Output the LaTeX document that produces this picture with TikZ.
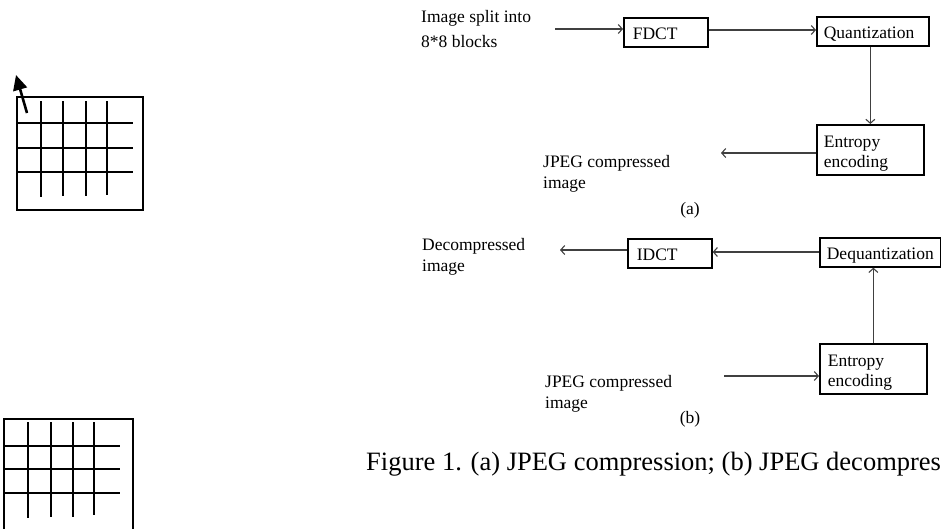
\documentclass[tikz,border=0pt]{standalone}
\usepackage{fontspec}
\setmainfont{Liberation Serif}
\usetikzlibrary{arrows.meta}
\begin{document}
\begin{tikzpicture}[x=1pt,y=-1pt,
  lbl/.style={font=\fontsize{17.5}{21.4}\selectfont, inner sep=0pt, align=left, anchor=north west},
  stage/.style={draw=black, line width=1.7pt, font=\fontsize{17.5}{20}\selectfont,
    inner xsep=0pt, inner ysep=0pt, align=left, anchor=north west,
    minimum height=29pt, text height=15pt, text depth=0pt},
  stage2/.style={stage, minimum height=50pt, text height=14pt, text depth=19pt},
  conn/.style={draw=black!75, line width=1.1pt, -{Straight Barb[length=4pt,width=9pt]}},
  gridline/.style={line width=2pt},
  pointer/.style={line width=2.6pt, -{Triangle[length=15pt,width=14pt]}}
]
\useasboundingbox (0,0) rectangle (941,528);
\clip (0,0) rectangle (941,528);

% ---- 8x8 block sketch, upper left ----
\draw[gridline] (17,97) rectangle (143,210);
\foreach \x/\e in {41/197,63/196,86/196,107/195}
  \draw[gridline] (\x,101) -- (\x,\e);
\foreach \y in {123,148,172}
  \draw[gridline] (17,\y) -- (133,\y);
\coordinate (ptrA) at (27,113);
\coordinate (ptrB) at (16,75);
\draw[pointer] (ptrA) -- (ptrB);

% ---- 8x8 block sketch, lower left ----
\draw[gridline] (4,419) rectangle (133,533);
\foreach \x/\e in {28/518,51/517,73/517,94/515}
  \draw[gridline] (\x,422) -- (\x,\e);
\foreach \y in {446,469,493}
  \draw[gridline] (4,\y) -- (120,\y);

% ---- (a) compression ----
\node[lbl, font=\fontsize{17.5}{25}\selectfont] (inA) at (421,10) {Image split into\\8*8 blocks};
\node[stage, minimum width=84pt, text width=66pt] (fdct) at (623,17) {FDCT};
\node[stage, minimum width=112pt, text width=98pt] (quant) at (816,16) {Quantization};
\node[stage2, minimum width=107pt, text width=93pt] (entA) at (816,124) {Entropy\\encoding};
\node[lbl] (outA) at (543,155) {JPEG compressed\\image};
\node[font=\fontsize{17.5}{21}\selectfont, inner sep=0pt, anchor=base] (capA) at (690,214) {(a)};

\coordinate (srcA) at (555,29);
\coordinate (dstA) at (721,153);
\draw[conn] (srcA) -- (srcA -| fdct.west);
\draw[conn] (fdct.east |- 0,30) -- (quant.west |- 0,30);
\draw[conn] (entA.north |- quant.south) -- (entA.north);
\draw[conn] (dstA -| entA.west) -- (dstA);

% ---- (b) decompression ----
\node[lbl] (outB) at (422,238) {Decompressed\\image};
\node[stage, minimum width=84pt, text width=66pt] (idct) at (627,238) {IDCT};
\node[stage, minimum width=121pt, text width=107pt] (dequant) at (819,237) {Dequantization};
\node[stage2, minimum width=107pt, text width=91pt] (entB) at (819,343) {Entropy\\encoding};
\node[lbl] (inB) at (545,375) {JPEG compressed\\image};
\node[font=\fontsize{17.5}{21}\selectfont, inner sep=0pt, anchor=base] (capB) at (690,423) {(b)};

\coordinate (dstB) at (560,250);
\coordinate (srcB) at (724,376);
\draw[conn] (dequant.west |- 0,252) -- (idct.east |- 0,252);
\draw[conn] (idct.west |- dstB) -- (dstB);
\draw[conn] (entB.north) -- (entB.north |- dequant.south);
\draw[conn] (srcB) -- (srcB -| entB.west);

% ---- caption ----
\node[font=\fontsize{26.5}{30}\selectfont, inner sep=0pt, anchor=base west] (caption) at (366,470)
  {Figure 1. (a) JPEG compression; (b) JPEG decompress};
\end{tikzpicture}
\end{document}
